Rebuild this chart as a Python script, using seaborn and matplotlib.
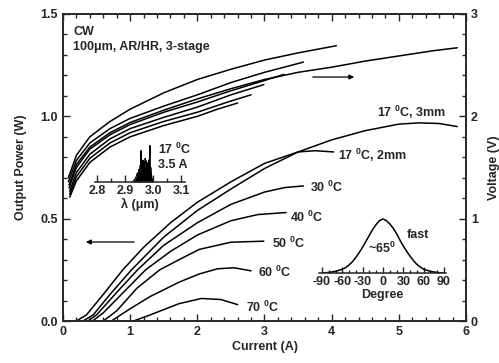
import numpy as np
import matplotlib
matplotlib.use("Agg")
import matplotlib.pyplot as plt
import seaborn as sns
from matplotlib.ticker import MultipleLocator

sns.set_theme(style="ticks")
plt.rcParams['font.family'] = ['Liberation Sans', 'DejaVu Sans']
plt.rcParams['font.weight'] = 'bold'
plt.rcParams['mathtext.fontset'] = 'custom'
plt.rcParams['mathtext.rm'] = 'Liberation Sans:bold'
plt.rcParams['mathtext.bf'] = 'Liberation Sans:bold'
plt.rcParams['mathtext.it'] = 'Liberation Sans:bold'
plt.rcParams['axes.unicode_minus'] = False

# output power curves (current A, power W)
p_3mm_i = [0.1, 0.3, 0.45, 0.7, 1.02, 1.5, 2.0, 2.5, 3.0, 3.5, 4.0, 4.5, 5.0, 5.3, 5.6, 5.87]
p_3mm_p = [0.0, 0.0, 0.03, 0.13, 0.25, 0.41, 0.54, 0.645, 0.745, 0.826, 0.885, 0.93, 0.962, 0.968, 0.965, 0.95]
p_2mm_i = [0.1, 0.2, 0.35, 0.6, 0.89, 1.2, 1.6, 2.0, 2.5, 3.0, 3.5, 3.75, 4.03]
p_2mm_p = [0.0, 0.0, 0.03, 0.13, 0.25, 0.36, 0.48, 0.58, 0.68, 0.77, 0.826, 0.832, 0.826]
p_30_i = [0.1, 0.37, 0.5, 0.8, 1.11, 1.5, 2.0, 2.5, 3.0, 3.3, 3.58]
p_30_p = [0.0, 0.0, 0.03, 0.14, 0.25, 0.37, 0.48, 0.57, 0.63, 0.652, 0.66]
p_40_i = [0.1, 0.44, 0.6, 0.9, 1.23, 1.6, 2.0, 2.5, 2.9, 3.32]
p_40_p = [0.0, 0.0, 0.04, 0.14, 0.25, 0.34, 0.42, 0.49, 0.52, 0.53]
p_50_i = [0.1, 0.6, 0.8, 1.1, 1.44, 1.73, 2.03, 2.5, 2.99]
p_50_p = [0.0, 0.0, 0.05, 0.16, 0.25, 0.30, 0.35, 0.385, 0.39]
p_60_i = [0.1, 0.72, 1.0, 1.3, 1.73, 2.03, 2.3, 2.55, 2.8]
p_60_p = [0.0, 0.0, 0.06, 0.12, 0.19, 0.23, 0.255, 0.26, 0.245]
p_70_i = [0.1, 1.05, 1.3, 1.73, 2.06, 2.35, 2.6]
p_70_p = [0.0, 0.0, 0.03, 0.085, 0.11, 0.105, 0.08]

# voltage curves (current A, voltage V)
v_2mm_i = [0.08, 0.2, 0.4, 0.7, 1.0, 1.5, 2.0, 2.5, 3.0, 3.5, 4.07]
v_2mm_v = [1.40, 1.62, 1.80, 1.95, 2.07, 2.23, 2.36, 2.46, 2.55, 2.62, 2.69]
v_30_i = [0.08, 0.2, 0.4, 0.7, 1.0, 1.5, 2.0, 2.5, 3.0, 3.58]
v_30_v = [1.36, 1.57, 1.74, 1.88, 1.98, 2.10, 2.21, 2.33, 2.43, 2.53]
v_3mm_i = [0.09, 0.2, 0.4, 0.7, 1.0, 1.5, 2.0, 2.5, 3.0, 3.5, 4.0, 4.5, 5.0, 5.5, 5.87]
v_3mm_v = [1.33, 1.53, 1.70, 1.84, 1.94, 2.06, 2.17, 2.27, 2.36, 2.43, 2.48, 2.54, 2.59, 2.64, 2.67]
v_40_i = [0.09, 0.2, 0.4, 0.7, 1.0, 1.5, 2.0, 2.5, 3.0, 3.29]
v_40_v = [1.30, 1.50, 1.68, 1.82, 1.92, 2.04, 2.14, 2.25, 2.35, 2.41]
v_50_i = [0.1, 0.2, 0.4, 0.7, 1.0, 1.5, 2.0, 2.5, 2.99]
v_50_v = [1.27, 1.45, 1.63, 1.78, 1.88, 1.99, 2.09, 2.21, 2.31]
v_60_i = [0.1, 0.2, 0.4, 0.7, 1.0, 1.5, 2.0, 2.5, 2.8]
v_60_v = [1.24, 1.41, 1.59, 1.74, 1.84, 1.95, 2.04, 2.15, 2.21]
v_70_i = [0.1, 0.2, 0.4, 0.7, 1.0, 1.5, 2.0, 2.3, 2.6]
v_70_v = [1.21, 1.37, 1.55, 1.70, 1.80, 1.91, 2.00, 2.07, 2.13]

# inset spectrum (wavelength um, relative intensity)
spec_wl = [2.925, 2.930, 2.935, 2.940, 2.944, 2.947, 2.950, 2.952, 2.954, 2.956,
           2.957, 2.958, 2.960, 2.962, 2.964, 2.966, 2.968, 2.970, 2.972, 2.974,
           2.976, 2.978, 2.980, 2.982, 2.984, 2.986, 2.988, 2.989, 2.990, 2.992,
           2.994, 2.996, 2.998, 3.000]
spec_int = [0.0, 0.03, 0.08, 0.15, 0.25, 0.2, 0.35, 0.28, 0.45, 0.38,
            0.86, 0.3, 0.5, 0.4, 0.6, 0.45, 0.55, 0.42, 0.65, 0.5,
            0.58, 0.4, 0.52, 0.35, 0.6, 0.45, 0.7, 1.0, 0.3, 0.4,
            0.2, 0.1, 0.03, 0.0]

# inset far field (angle deg, relative intensity)
ff_deg = [-90, -85, -80, -75, -70, -65, -60, -55, -50, -45, -40, -35, -30, -25, -20, -15, -10, -5, 0,
          5, 10, 15, 20, 25, 30, 35, 40, 45, 50, 55, 60, 65, 70, 75, 80, 85, 90]
ff_int = [0.0, 0.005, 0.01, 0.02, 0.03, 0.05, 0.07, 0.10, 0.15, 0.21, 0.29, 0.38, 0.48, 0.59, 0.70, 0.81, 0.90, 0.97, 1.0,
          0.97, 0.91, 0.83, 0.73, 0.61, 0.50, 0.40, 0.31, 0.23, 0.16, 0.11, 0.07, 0.05, 0.03, 0.02, 0.01, 0.005, 0.0]

power = [(p_3mm_i, p_3mm_p), (p_2mm_i, p_2mm_p), (p_30_i, p_30_p), (p_40_i, p_40_p),
         (p_50_i, p_50_p), (p_60_i, p_60_p), (p_70_i, p_70_p)]
voltage = [(v_2mm_i, v_2mm_v), (v_30_i, v_30_v), (v_3mm_i, v_3mm_v), (v_40_i, v_40_v),
           (v_50_i, v_50_v), (v_60_i, v_60_v), (v_70_i, v_70_v)]

fig = plt.figure(figsize=(4.99, 3.63), dpi=100)
ax = fig.add_axes([63 / 499, 1 - 321 / 363, 403 / 499, 307 / 363])
ax2 = ax.twinx()

for xi, yi in power:
    sns.lineplot(x=xi, y=yi, ax=ax, color='black', lw=1.1)
for xi, yi in voltage:
    sns.lineplot(x=xi, y=yi, ax=ax2, color='black', lw=1.1)

fs = 9
ax.set_xlim(0, 6)
ax.set_ylim(0, 1.5)
ax2.set_ylim(0, 3)
ax.xaxis.set_major_locator(MultipleLocator(1))
ax.xaxis.set_minor_locator(MultipleLocator(0.2))
ax.yaxis.set_major_locator(MultipleLocator(0.5))
ax.yaxis.set_minor_locator(MultipleLocator(0.1))
ax2.yaxis.set_major_locator(MultipleLocator(1))
ax2.yaxis.set_minor_locator(MultipleLocator(0.2))
ax.set_yticks([0, 0.5, 1.0, 1.5])
ax.set_yticklabels(['0.0', '0.5', '1.0', '1.5'])
ax.tick_params(which='both', direction='in', top=True, labelsize=fs, width=1)
ax.tick_params(which='major', length=5)
ax.tick_params(which='minor', length=3)
ax2.tick_params(which='both', direction='in', labelsize=fs, width=1)
ax2.tick_params(which='major', length=5)
ax2.tick_params(which='minor', length=3)
for a in (ax, ax2):
    for s in a.spines.values():
        s.set_linewidth(1.2)
    for lab in a.get_xticklabels() + a.get_yticklabels():
        lab.set_fontweight('bold')
ax.set_xlabel('Current (A)', fontsize=fs, fontweight='bold', labelpad=2)
ax.set_ylabel('Output Power (W)', fontsize=fs, fontweight='bold', labelpad=10)
ax2.set_ylabel('Voltage (V)', fontsize=fs, fontweight='bold', labelpad=7)

deg = r'$^{0}$'
tk = dict(fontsize=fs, fontweight='bold', va='center', ha='left')
ax.text(0.149, 1.412, 'CW', **tk)
ax.text(0.149, 1.339, '100μm, AR/HR, 3-stage', **tk)
ax.text(4.675, 1.021, '17 ' + deg + 'C, 3mm', **tk)
ax.text(4.094, 0.811, '17 ' + deg + 'C, 2mm', **tk)
ax.text(3.677, 0.655, '30 ' + deg + 'C', **tk)
ax.text(3.379, 0.508, '40 ' + deg + 'C', **tk)
ax.text(3.111, 0.381, '50 ' + deg + 'C', **tk)
ax.text(2.903, 0.239, '60 ' + deg + 'C', **tk)
ax.text(2.724, 0.068, '70 ' + deg + 'C', **tk)
ax.text(1.414, 0.840, '17 ' + deg + 'C', **tk)
ax.text(1.414, 0.762, '3.5 A', **tk)
ax.text(5.121, 0.42, 'fast', **tk)
ax.text(4.541, 0.357, '~65' + deg, **tk)

arw = dict(arrowstyle='-|>', color='black', lw=0.9, mutation_scale=7)
ax.annotate('', xy=(0.3, 0.386), xytext=(1.1, 0.386), arrowprops=arw)
ax.annotate('', xy=(4.377, 1.192), xytext=(3.677, 1.192), arrowprops=arw)

# spectrum inset
ins1 = fig.add_axes([95 / 499, 1 - 182 / 363, 90 / 499, 42 / 363])
ins1.patch.set_alpha(0)
sns.lineplot(x=spec_wl, y=spec_int, ax=ins1, color='black', lw=0.8)
ins1.fill_between(spec_wl, spec_int, color='black', lw=0)
ins1.set_xlim(2.793, 3.114)
ins1.set_ylim(0, 1.15)
ins1.xaxis.set_major_locator(MultipleLocator(0.1))
ins1.xaxis.set_minor_locator(MultipleLocator(0.05))
ins1.set_xticks([2.8, 2.9, 3.0, 3.1])
ins1.set_xticklabels(['2.8', '2.9', '3.0', '3.1'])
ins1.set_yticks([])
for s in ('top', 'left', 'right'):
    ins1.spines[s].set_visible(False)
ins1.spines['bottom'].set_linewidth(1.1)
ins1.tick_params(axis='x', which='both', direction='in', labelsize=fs, width=1, pad=2)
ins1.tick_params(axis='x', which='major', length=5)
ins1.tick_params(axis='x', which='minor', length=3)
for lab in ins1.get_xticklabels():
    lab.set_fontweight('bold')
ins1.set_xlabel('λ (μm)', fontsize=fs, fontweight='bold', labelpad=1)

# far-field inset
ins2 = fig.add_axes([319 / 499, 1 - 273 / 363, 127 / 499, 58 / 363])
ins2.patch.set_alpha(0)
sns.lineplot(x=ff_deg, y=ff_int, ax=ins2, color='black', lw=1.1)
ins2.set_xlim(-94.4, 93)
ins2.set_ylim(0, 1.074)
ins2.set_xticks([-90, -60, -30, 0, 30, 60, 90])
ins2.xaxis.set_minor_locator(MultipleLocator(10))
ins2.set_yticks([])
for s in ('top', 'left', 'right'):
    ins2.spines[s].set_visible(False)
ins2.spines['bottom'].set_linewidth(1.1)
ins2.tick_params(axis='x', which='both', direction='in', labelsize=fs, width=1, pad=2)
ins2.tick_params(axis='x', which='major', length=4)
ins2.tick_params(axis='x', which='minor', length=2.5)
for lab in ins2.get_xticklabels():
    lab.set_fontweight('bold')
ins2.set_xlabel('Degree', fontsize=fs, fontweight='bold', labelpad=1)

fig.savefig('out.png', dpi=100)
